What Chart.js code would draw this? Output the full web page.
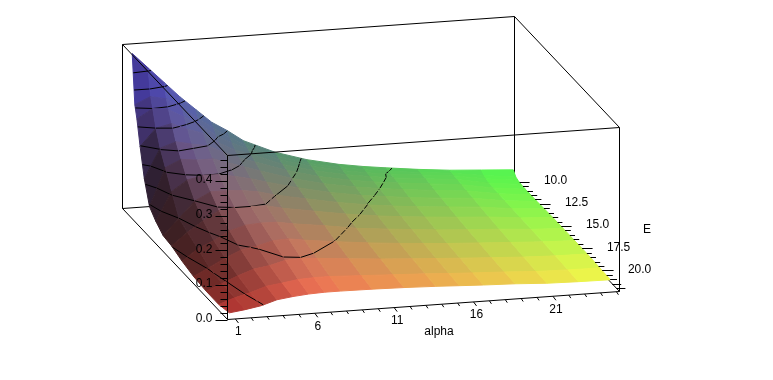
<!DOCTYPE html>
<html>
<head>
<meta charset="utf-8">
<style>
  html, body { margin: 0; padding: 0; background: #fff; }
  canvas { display: block; }
</style>
<script src="https://cdn.jsdelivr.net/npm/chart.js@4"></script>
</head>
<body>
<canvas id="chart1" width="773" height="380"></canvas>
<script>
// grid of the surface
const alphas = [1, 2, 3, 4, 5, 6, 7, 8, 10, 12, 14, 15.5, 17, 19, 21, 23, 25];
const energies = [10.56, 10.87, 11.12, 11.5, 12, 12.62, 13.37, 14.25, 15.25, 16.5, 17.87, 19.37, 20.87, 22.12];

// one list per alpha, same order as energies
const zAlpha1 = [.465, .325, .29, .22, .14, .075, .052, .033, .029, .017, .008, .004, .004, .012];
const zAlpha2 = [.42, .345, .317, .27, .225, .185, .135, .08, .065, .05, .031, .023, .02, .018];
const zAlpha3 = [.375, .335, .31, .28, .24, .205, .165, .127, .095, .07, .055, .042, .032, .026];
const zAlpha4 = [.33, .305, .285, .26, .23, .2, .175, .15, .122, .095, .075, .058, .047, .04];
const zAlpha5 = [.29, .272, .26, .245, .222, .2, .174, .15, .127, .108, .083, .065, .053, .046];
const zAlpha6 = [.25, .24, .225, .213, .2, .185, .165, .147, .127, .111, .095, .077, .06, .05];
const zAlpha7 = [.222, .21, .2, .19, .18, .17, .155, .14, .125, .11, .097, .079, .062, .052];
const zAlpha8 = [.19, .185, .18, .175, .165, .155, .142, .128, .115, .102, .09, .076, .062, .052];
const zAlpha10 = [.15, .146, .143, .139, .134, .127, .119, .11, .1, .09, .079, .068, .058, .051];
const zAlpha12 = [.122, .119, .117, .114, .11, .105, .099, .093, .085, .076, .069, .061, .054, .049];
const zAlpha14 = [.102, .1, .098, .096, .093, .089, .084, .079, .073, .067, .061, .055, .05, .046];
const zAlpha15 = [.091, .089, .087, .086, .083, .08, .076, .071, .066, .061, .056, .051, .046, .043];
const zAlpha17 = [.082, .08, .078, .077, .075, .072, .068, .064, .06, .055, .051, .047, .043, .04];
const zAlpha19 = [.071, .07, .069, .068, .066, .063, .06, .057, .053, .049, .046, .042, .039, .037];
const zAlpha21 = [.062, .061, .06, .059, .057, .055, .053, .05, .047, .044, .041, .037, .034, .032];
const zAlpha23 = [.056, .048, .045, .042, .041, .04, .039, .039, .038, .037, .036, .034, .032, .03];
const zAlpha25 = [.05, .037, .034, .032, .031, .031, .031, .032, .033, .033, .033, .033, .031, .029];
const zColumns = [zAlpha1, zAlpha2, zAlpha3, zAlpha4, zAlpha5, zAlpha6, zAlpha7, zAlpha8, zAlpha10, zAlpha12, zAlpha14, zAlpha15, zAlpha17, zAlpha19, zAlpha21, zAlpha23, zAlpha25];

const contourLevels = [.028, .08, .127, .175, .222, .27, .317, .365, .412];

const alphaTicks = [1, 6, 11, 16, 21];
const energyTicks = [10, 12.5, 15, 17.5, 20];
const zTicks = [0, .1, .2, .3, .4];

// box limits
const alphaMin = .753, alphaMax = 25.443;
const energyMin = 9.87, energyMax = 22.37;
const zMax = .474;

// parallel projection of the box onto the page
function project(a, e, z) {
  const u = (a - alphaMin) / (alphaMax - alphaMin);
  const v = (energyMax - e) / (energyMax - energyMin);
  return {
    x: 227.5 + 392 * u - 105 * v,
    y: 319.5 - 28 * u - 111 * v - 164 * z / zMax
  };
}

// shading taken at a grid vertex, from the slopes around it
function vertexLight(i, j) {
  const i0 = Math.max(i - 1, 0), i1 = Math.min(i + 1, alphas.length - 1);
  const j0 = Math.max(j - 1, 0), j1 = Math.min(j + 1, energies.length - 1);
  const sa = (zColumns[i1][j] - zColumns[i0][j]) / zMax / ((alphas[i1] - alphas[i0]) / (alphaMax - alphaMin));
  const sf = (zColumns[i][j0] - zColumns[i][j1]) / zMax / ((energies[j1] - energies[j0]) / (energyMax - energyMin));
  const len = Math.sqrt(sa * sa + sf * sf + 1);
  const dot = (-sa * .5 + sf * .35 + .8) / len;
  return .42 + .58 * Math.min(1, Math.max(0, dot) / .8);
}

function quadColor(i, j) {
  const z = (zColumns[i][j] + zColumns[i + 1][j] + zColumns[i][j + 1] + zColumns[i + 1][j + 1]) / 4;
  const light = (vertexLight(i, j) + vertexLight(i + 1, j) + vertexLight(i, j + 1) + vertexLight(i + 1, j + 1)) / 4;
  const u = ((alphas[i] + alphas[i + 1]) / 2 - alphaMin) / (alphaMax - alphaMin);
  const v = (energyMax - (energies[j] + energies[j + 1]) / 2) / (energyMax - energyMin);
  const r = (.3 + .67 * (1 - v)) * light;
  const g = (.27 + .73 * u) * light;
  const b = (.25 + .65 * z / zMax) * light;
  return 'rgb(' + Math.round(r * 255) + ',' + Math.round(g * 255) + ',' + Math.round(b * 255) + ')';
}

function lineSet(points, dash) {
  return {
    data: points, showLine: true, fill: false, pointRadius: 0,
    borderColor: '#000', borderWidth: 1, tension: 0, borderDash: dash || []
  };
}

// contour pieces inside one cell
function cellContours(i, j) {
  const corners = [
    [alphas[i], energies[j], zColumns[i][j]],
    [alphas[i + 1], energies[j], zColumns[i + 1][j]],
    [alphas[i + 1], energies[j + 1], zColumns[i + 1][j + 1]],
    [alphas[i], energies[j + 1], zColumns[i][j + 1]]
  ];
  const pieces = [];
  for (const level of contourLevels) {
    const hits = [];
    for (let k = 0; k < 4; k++) {
      const p = corners[k], q = corners[(k + 1) % 4];
      if ((p[2] < level) !== (q[2] < level)) {
        const t = (level - p[2]) / (q[2] - p[2]);
        hits.push(project(p[0] + t * (q[0] - p[0]), p[1] + t * (q[1] - p[1]), level));
      }
    }
    for (let k = 0; k + 1 < hits.length; k += 2) {
      const seg = hits[k].x < hits[k + 1].x ? [hits[k], hits[k + 1]] : [hits[k + 1], hits[k]];
      // the steep upper runs of the low contours come out broken in the reference
      const steep = seg[1].y - seg[0].y < -.8 * (seg[1].x - seg[0].x);
      pieces.push(lineSet(seg, steep && level < .15 ? [6, 2] : null));
    }
  }
  return pieces;
}

function buildSurface() {
  const sets = [];
  for (let j = 0; j < energies.length - 1; j++) {
    for (let i = 0; i < alphas.length - 1; i++) {
      const color = quadColor(i, j);
      sets.push({
        data: [
          project(alphas[i], energies[j], zColumns[i][j]),
          project(alphas[i + 1], energies[j], zColumns[i + 1][j]),
          project(alphas[i + 1], energies[j + 1], zColumns[i + 1][j + 1]),
          project(alphas[i], energies[j + 1], zColumns[i][j + 1]),
          project(alphas[i], energies[j], zColumns[i][j])
        ],
        showLine: true, fill: 'shape', pointRadius: 0, tension: 0,
        backgroundColor: color, borderColor: color, borderWidth: 1
      });
      sets.push(...cellContours(i, j));
    }
  }
  return sets;
}

// x of the surface's right hand edge at a given page height
function surfaceEdgeX(y) {
  const last = alphas.length - 1;
  for (let j = 0; j < energies.length - 1; j++) {
    const p = project(alphas[last], energies[j], zColumns[last][j]);
    const q = project(alphas[last], energies[j + 1], zColumns[last][j + 1]);
    if (y >= p.y && y <= q.y) {
      return p.x + (y - p.y) / (q.y - p.y) * (q.x - p.x);
    }
  }
  return 0;
}

// box edges behind the surface
function backLines() {
  return [
    lineSet([project(alphaMin, energyMin, zMax), project(alphaMax, energyMin, zMax)]),
    lineSet([project(alphaMin, energyMin, 0), project(alphaMin, energyMin, zMax)]),
    lineSet([project(alphaMax, energyMin, 0), project(alphaMax, energyMin, zMax)]),
    lineSet([project(alphaMin, energyMin, 0), project(alphaMax, energyMin, 0)]),
    lineSet([project(alphaMax, energyMin, 0), project(alphaMax, energyMax, 0)])
  ];
}

// edges and ticks drawn over the surface
function frontLines() {
  const sets = [
    lineSet([project(alphaMin, energyMin, zMax), project(alphaMin, energyMax, zMax)]),
    lineSet([project(alphaMax, energyMin, zMax), project(alphaMax, energyMax, zMax)]),
    lineSet([project(alphaMin, energyMax, zMax), project(alphaMax, energyMax, zMax)]),
    lineSet([project(alphaMin, energyMax, 0), project(alphaMin, energyMax, zMax)]),
    lineSet([project(alphaMax, energyMax, 0), project(alphaMax, energyMax, zMax)]),
    lineSet([project(alphaMin, energyMax, 0), project(alphaMax, energyMax, 0)]),
    lineSet([project(alphaMin, energyMin, 0), project(alphaMin, energyMax, 0)])
  ];
  for (let k = 0; k <= 23; k++) {
    const p = project(alphaMin, energyMax, k * .02);
    const y = Math.round(p.y) + .5;
    sets.push(lineSet([{ x: p.x - (k % 5 === 0 ? 12 : 7), y: y }, { x: p.x, y: y }]));
  }
  for (let a = 1; a <= 25; a++) {
    const p = project(a + .25, energyMax, 0);
    const major = (a - 1) % 5 === 0;
    sets.push(lineSet([p, { x: p.x + (major ? 3 : 2), y: p.y + (major ? 4 : 3) }]));
  }
  for (let e = 10; e <= 22; e += .5) {
    const p = project(alphaMax, e, 0);
    const y = Math.round(p.y) + .5;
    const end = p.x + (e % 2.5 === 0 ? 14 : 9);
    const start = Math.max(p.x, surfaceEdgeX(y));
    if (start < end) sets.push(lineSet([{ x: start, y: y }, { x: end, y: y }]));
  }
  return sets;
}

const axisText = {
  id: 'axisText',
  afterDraw(chart) {
    const { ctx, scales } = chart;
    const put = (text, x, y, align) => {
      ctx.textAlign = align || 'center';
      ctx.fillText(text, scales.x.getPixelForValue(x), scales.y.getPixelForValue(y));
    };
    ctx.save();
    ctx.fillStyle = '#000';
    ctx.font = '12px "Liberation Sans"';
    ctx.textBaseline = 'middle';
    for (const z of zTicks) {
      const p = project(alphaMin, energyMax, z);
      put(z.toFixed(1), p.x - 15, p.y - 1, 'right');
    }
    for (const a of alphaTicks) {
      const p = project(a + .25, energyMax, 0);
      put(String(a), p.x + 3, p.y + 13);
    }
    for (const e of energyTicks) {
      const p = project(alphaMax, e, 0);
      put(e.toFixed(1), p.x + 40, p.y - 1);
    }
    put('alpha', 439, 332);
    put('E', 647, 230);
    ctx.restore();
  }
};

// chart.js paints the first dataset last, so the list runs front to back
const datasets = [...frontLines(), ...buildSurface().reverse(), ...backLines()];

new Chart(document.getElementById('chart1').getContext('2d'), {
  type: 'scatter',
  data: { datasets: datasets },
  plugins: [axisText],
  options: {
    responsive: false,
    animation: false,
    events: [],
    layout: { padding: 0 },
    plugins: { legend: { display: false }, tooltip: { enabled: false } },
    scales: {
      x: { type: 'linear', min: 0, max: 773, display: false },
      y: { type: 'linear', min: 0, max: 380, reverse: true, display: false }
    }
  }
});
</script>
</body>
</html>
